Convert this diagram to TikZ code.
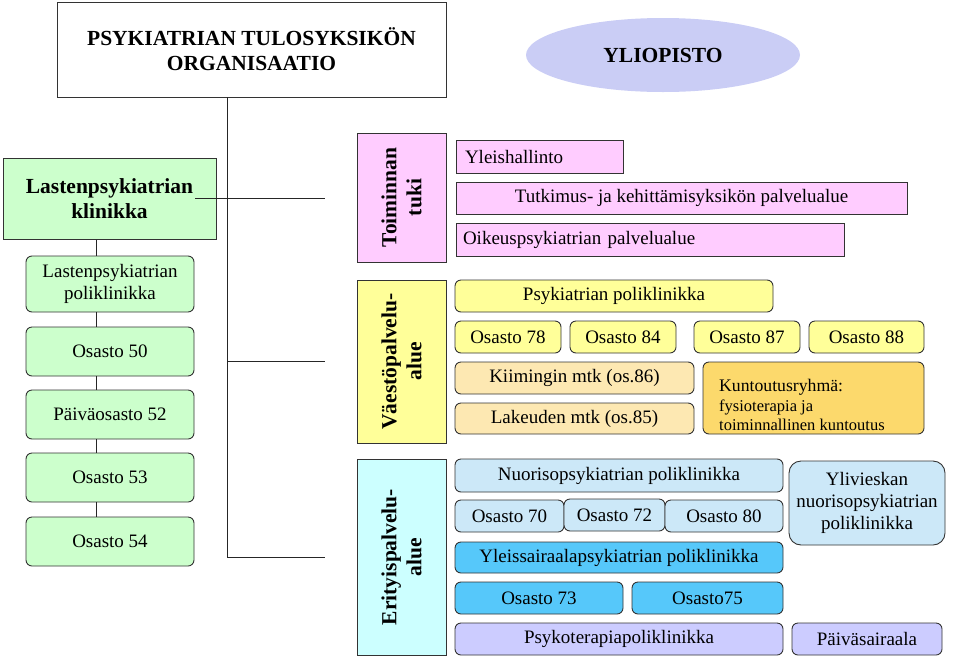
\documentclass[tikz,border=0pt]{standalone}
\usepackage{fontspec}
\setmainfont{Liberation Serif}
\usetikzlibrary{shapes.geometric}

\definecolor{klinikkagreen}{RGB}{204,255,204}
\definecolor{tukipink}{RGB}{255,204,255}
\definecolor{vaestoyellow}{RGB}{255,255,153}
\definecolor{mtktan}{RGB}{253,232,178}
\definecolor{kuntgold}{RGB}{252,217,108}
\definecolor{eritcyan}{RGB}{204,255,255}
\definecolor{nuorblue}{RGB}{204,232,248}
\definecolor{yleisblue}{RGB}{86,200,250}
\definecolor{psylav}{RGB}{204,204,255}
\definecolor{unilav}{RGB}{202,205,245}

\begin{document}
\begin{tikzpicture}[x=1pt,y=-1pt,
    box/.style={draw=black!80, line width=0.9pt, inner sep=0pt, outer sep=0pt,
      align=center, font=\fontsize{19}{22}\selectfont},
    rbox/.style={box, rounded corners=6pt},
    head/.style={font=\fontsize{21.5}{25}\selectfont\bfseries},
    sidebox/.style={box, head, rotate=90},
    link/.style={draw=black!85, line width=0.9pt}
  ]
  \useasboundingbox (0,0) rectangle (960,659);

  % Top: title and university
  \node[box, head, minimum width=389, minimum height=95] (title) at (251.5,49.5)
    {PSYKIATRIAN TULOSYKSIKÖN\\ORGANISAATIO};
  \node[ellipse, fill=unilav, inner sep=0pt, minimum width=274, minimum height=74,
    head] (uni) at (663,55) {YLIOPISTO};

  % Child psychiatry clinic (left column)
  \node[box, head, fill=klinikkagreen, minimum width=213, minimum height=81] (klinikka)
    at (109.5,199) {Lastenpsykiatrian\\klinikka};
  \node[rbox, fill=klinikkagreen, minimum width=168, minimum height=56] (lpol)
    at (110,284) {Lastenpsykiatrian\\poliklinikka};
  \node[rbox, fill=klinikkagreen, minimum width=168, minimum height=49] (o50)
    at (110,351.5) {Osasto 50};
  \node[rbox, fill=klinikkagreen, minimum width=168, minimum height=49] (p52)
    at (110,414.5) {Päiväosasto 52};
  \node[rbox, fill=klinikkagreen, minimum width=168, minimum height=49] (o53)
    at (110,477.5) {Osasto 53};
  \node[rbox, fill=klinikkagreen, minimum width=168, minimum height=49] (o54)
    at (110,541.5) {Osasto 54};

  \coordinate (gx) at (96,0);
  \foreach \a/\b in {klinikka/lpol, lpol/o50, o50/p52, p52/o53, o53/o54}
    \draw[link] (\a.south -| gx) -- (\b.north -| gx);

  % Service areas (rotated labels)
  \node[sidebox, fill=tukipink, minimum width=129, minimum height=89] (tuki)
    at (401.5,197.5) {Toiminnan\\tuki};
  \node[sidebox, fill=vaestoyellow, minimum width=163, minimum height=89] (vaesto)
    at (401.5,361.5) {Väestöpalvelu-\\alue};
  \node[sidebox, fill=eritcyan, minimum width=196, minimum height=89] (erit)
    at (401.5,557) {Erityispalvelu-\\alue};

  % Main spine and branches
  \coordinate (sp) at (227,557);
  \coordinate (e1) at (325,198);
  \coordinate (e2) at (325,361);
  \coordinate (e3) at (325,557);
  \draw[link] (title.south -| sp) -- (sp) -- (e3);
  \draw[link] (e2 -| sp) -- (e2);
  \draw[link] (e1 -| 195,0) -- (e1);

  % Toiminnan tuki
  \node[box, fill=tukipink, anchor=west, minimum height=33, inner xsep=9pt,
    text width=149pt, align=left] (yh) at (456,156.5) {Yleishallinto};
  \node[box, fill=tukipink, minimum width=451, minimum height=32] (tk)
    at (681.5,198) {Tutkimus- ja kehittämisyksikön palvelualue};
  \node[box, fill=tukipink, anchor=west, minimum height=33, inner xsep=7pt,
    text width=374pt, align=left] (oik) at (456,239.5) {Oikeuspsykiatrian palvelualue};

  % Väestöpalvelualue
  \node[rbox, fill=vaestoyellow, minimum width=318, minimum height=32] (ppol)
    at (614,296) {Psykiatrian poliklinikka};
  \node[rbox, fill=vaestoyellow, minimum width=106, minimum height=32] (o78)
    at (508,337) {Osasto 78};
  \node[rbox, fill=vaestoyellow, minimum width=106, minimum height=32] (o84)
    at (623,337) {Osasto 84};
  \node[rbox, fill=vaestoyellow, minimum width=106, minimum height=32] (o87)
    at (747,337) {Osasto 87};
  \node[rbox, fill=vaestoyellow, minimum width=115, minimum height=32] (o88)
    at (866.5,337) {Osasto 88};
  \node[rbox, fill=mtktan, minimum width=239, minimum height=32] (kiim)
    at (574.5,378) {Kiimingin mtk (os.86)};
  \node[rbox, fill=mtktan, minimum width=239, minimum height=31] (lak)
    at (574.5,418.5) {Lakeuden mtk (os.85)};
  \node[rbox, fill=kuntgold, minimum height=72, inner xsep=17pt, text width=187pt,
    align=left, font=\fontsize{16.5}{19.5}\selectfont] (kunt) at (813.5,398) {};
  \node[align=left, anchor=west, inner sep=0pt, font=\fontsize{16.5}{19.5}\selectfont]
    (kunttext) at (719,405)
    {{\fontsize{17.7}{20}\selectfont Kuntoutusryhmä:}\\fysioterapia ja\\toiminnallinen kuntoutus};

  % Erityispalvelualue
  \node[rbox, fill=nuorblue, minimum width=328, minimum height=33] (npol)
    at (619,475.5) {Nuorisopsykiatrian poliklinikka};
  \node[rbox, fill=nuorblue, minimum width=109, minimum height=32] (o70)
    at (509.5,516) {Osasto 70};
  \node[rbox, fill=nuorblue, minimum width=101, minimum height=32] (o72)
    at (614.5,515) {Osasto 72};
  \node[rbox, fill=nuorblue, minimum width=118, minimum height=32] (o80)
    at (724,516) {Osasto 80};
  \node[rbox, fill=nuorblue, minimum width=156, minimum height=84, rounded corners=12pt] (yliv)
    at (867,503) {Ylivieskan\\nuorisopsykiatrian\\poliklinikka};
  \node[rbox, fill=yleisblue, minimum width=328, minimum height=31] (ypol)
    at (619,557.5) {Yleissairaalapsykiatrian poliklinikka};
  \node[rbox, fill=yleisblue, minimum width=168, minimum height=32] (o73)
    at (539,598) {Osasto 73};
  \node[rbox, fill=yleisblue, minimum width=151, minimum height=32] (o75)
    at (707.5,598) {Osasto75};
  \node[rbox, fill=psylav, minimum width=328, minimum height=32] (psy)
    at (619,639) {Psykoterapiapoliklinikka};
  \node[rbox, fill=psylav, minimum width=150, minimum height=32] (pvs)
    at (867,639) {Päiväsairaala};

\end{tikzpicture}
\end{document}
